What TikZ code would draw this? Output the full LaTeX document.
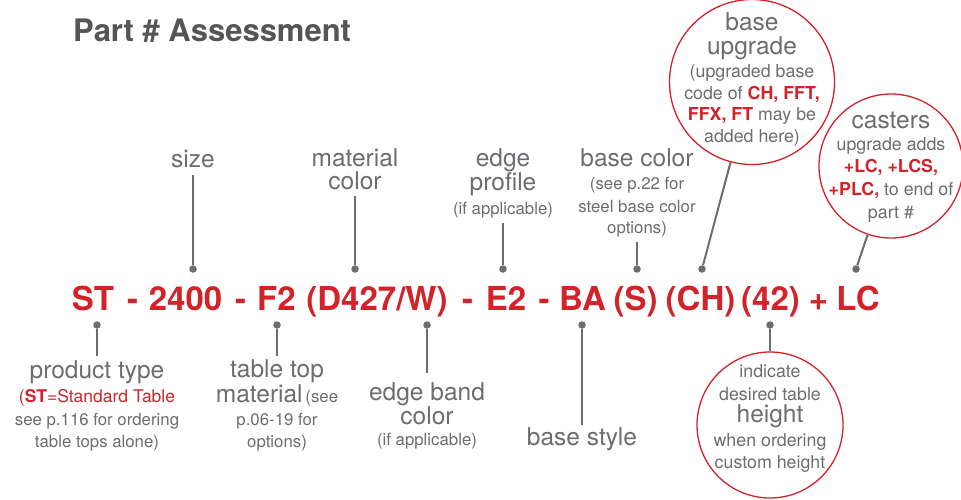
\documentclass[tikz,border=0pt]{standalone}
\usepackage{fontspec}
\setmainfont{TeX Gyre Heros}
\definecolor{pred}{HTML}{D2232A}
\definecolor{lgray}{HTML}{6C6D70}
\definecolor{tgray}{HTML}{545557}
\newcommand\LBig{\fontsize{24.5}{26}\selectfont}
\newcommand\LSmall{\fontsize{16.8}{20}\selectfont}
\newcommand\LCirc{\fontsize{17.8}{20}\selectfont}
\tikzset{
  txt/.style={anchor=base,inner sep=0pt,text=lgray},
  bigl/.style={txt,font=\LBig},
  smalll/.style={txt,font=\LSmall},
  circl/.style={txt,font=\LCirc},
  code/.style={anchor=base,inner sep=0pt,text=pred,font=\fontsize{33}{36}\selectfont\bfseries},
  dotn/.style={circle,fill=lgray,inner sep=0pt,minimum size=7.5pt},
  conn/.style={draw=lgray,line width=2pt},
  bubble/.style={circle,draw=pred,line width=1.3pt,inner sep=0pt}
}
\begin{document}
\begin{tikzpicture}[x=1pt,y=-1pt]
\useasboundingbox (0,0) rectangle (961,499);
\fill[white] (0,0) rectangle (961,499);
% title
\node[anchor=base west,inner sep=0pt,text=tgray,font=\fontsize{31}{34}\selectfont\bfseries] (title) at (73,41) {Part \# Assessment};
% code line
\node[code] (cST) at (93,310) {ST};
\node[code] (m1) at (132.5,310) {-};
\node[code] (c2400) at (185.5,310) {2400};
\node[code] (m2) at (240.5,310) {-};
\node[code] (cF2) at (276.5,310) {F2};
\node[code] (cD) at (377,310) {(D427/W)};
\node[code] (m3) at (467.5,310) {-};
\node[code] (cE2) at (506,310) {E2};
\node[code] (m4) at (544,310) {-};
\node[code] (cBA) at (582.5,310) {BA};
\node[code] (cS) at (635.5,310) {(S)};
\node[code] (cCH) at (700.5,310) {(CH)};
\node[code] (c42) at (770.5,310) {(42)};
\node[code] (cplus) at (818.5,310) {+};
\node[code] (cLC) at (858,310) {LC};
% top dots
\node[dotn] (dsize) at (193,269) {};
\node[dotn] (dmat) at (355,269) {};
\node[dotn] (dedge) at (503,269) {};
\node[dotn] (dbcol) at (637,269) {};
\node[dotn] (dbup) at (702,269) {};
\node[dotn] (dcast) at (856,269) {};
% bottom dots
\node[dotn] (dprod) at (97,325) {};
\node[dotn] (dtop) at (277,325) {};
\node[dotn] (dband) at (427,325) {};
\node[dotn] (dstyle) at (582,325) {};
\node[dotn] (dhgt) at (770,325) {};
% size
\node[bigl] (lsize) at (193,167) {size};
\coordinate (esize) at (193,175);
\draw[conn] (esize) -- (dsize);
% material color
\node[bigl] (lmat1) at (355,166) {material};
\node[bigl] (lmat2) at (355,189) {color};
\coordinate (emat) at (355,196);
\draw[conn] (emat) -- (dmat);
% edge profile
\node[bigl] (ledge1) at (503,166) {edge};
\node[bigl] (ledge2) at (503,190) {profile};
\node[smalll] (ledge3) at (503,214) {(if applicable)};
\coordinate (eedge) at (503,223);
\draw[conn] (eedge) -- (dedge);
% base color
\node[bigl] (lbc1) at (637,166) {base color};
\node[smalll] (lbc2) at (637,189) {(see p.22 for};
\node[smalll] (lbc3) at (637,212) {steel base color};
\node[smalll] (lbc4) at (637,233) {options)};
\coordinate (ebc) at (637,242);
\draw[conn] (ebc) -- (dbcol);
% base upgrade bubble
\node[bubble,minimum size=165pt] (bup) at (752,82) {};
\node[bigl] (lbu1) at (752,30) {base};
\node[bigl] (lbu2) at (752,54) {upgrade};
\node[circl] (lbu3) at (752,77) {(upgraded base};
\node[circl] (lbu4) at (752,99) {code of \textcolor{pred}{\bfseries CH, FFT,}};
\node[circl] (lbu5) at (752,120) {\textcolor{pred}{\bfseries FFX, FT} may be};
\node[circl] (lbu6) at (752,142) {added here)};
\draw[conn] (bup) -- (dbup);
% casters bubble
\node[bubble,minimum size=144pt] (cast) at (891,166) {};
\node[bigl] (lca1) at (891,128) {casters};
\node[circl] (lca2) at (891,150) {upgrade adds};
\node[circl] (lca3) at (891,172) {\textcolor{pred}{\bfseries +LC, +LCS,}};
\node[circl] (lca4) at (891,195) {\textcolor{pred}{\bfseries +PLC,} to end of};
\node[circl] (lca5) at (891,218) {part \#};
\draw[conn] (cast) -- (dcast);
% product type
\coordinate (eprod) at (97,356);
\draw[conn] (dprod) -- (eprod);
\node[bigl] (lpt1) at (97,378) {product type};
\node[txt,font=\fontsize{17.5}{20}\selectfont,text=pred] (lpt2) at (97,402) {(\textbf{ST}=Standard Table};
\node[smalll] (lpt3) at (97,425) {see p.116 for ordering};
\node[smalll] (lpt4) at (97,447) {table tops alone)};
% table top material
\coordinate (etop) at (277,356);
\draw[conn] (dtop) -- (etop);
\node[bigl] (ltt1) at (277,377) {table top};
\node[txt] (ltt2) at (277,402) {{\LBig material} {\LSmall (see}};
\node[smalll] (ltt3) at (277,425) {p.06-19 for};
\node[smalll] (ltt4) at (277,447) {options)};
% edge band color
\coordinate (eband) at (427,373);
\draw[conn] (dband) -- (eband);
\node[bigl] (leb1) at (427,400) {edge band};
\node[bigl] (leb2) at (427,424) {color};
\node[smalll] (leb3) at (427,445) {(if applicable)};
% base style
\coordinate (estyle) at (582,425);
\draw[conn] (dstyle) -- (estyle);
\node[bigl] (lbs) at (582,445) {base style};
% height bubble
\node[bubble,minimum size=146pt] (hgt) at (770,425) {};
\draw[conn] (dhgt) -- (hgt);
\node[circl] (lh1) at (770,377) {indicate};
\node[circl] (lh2) at (770,400) {desired table};
\node[bigl] (lh3) at (770,422) {height};
\node[circl] (lh4) at (770,446) {when ordering};
\node[circl] (lh5) at (770,468) {custom height};
\end{tikzpicture}
\end{document}
